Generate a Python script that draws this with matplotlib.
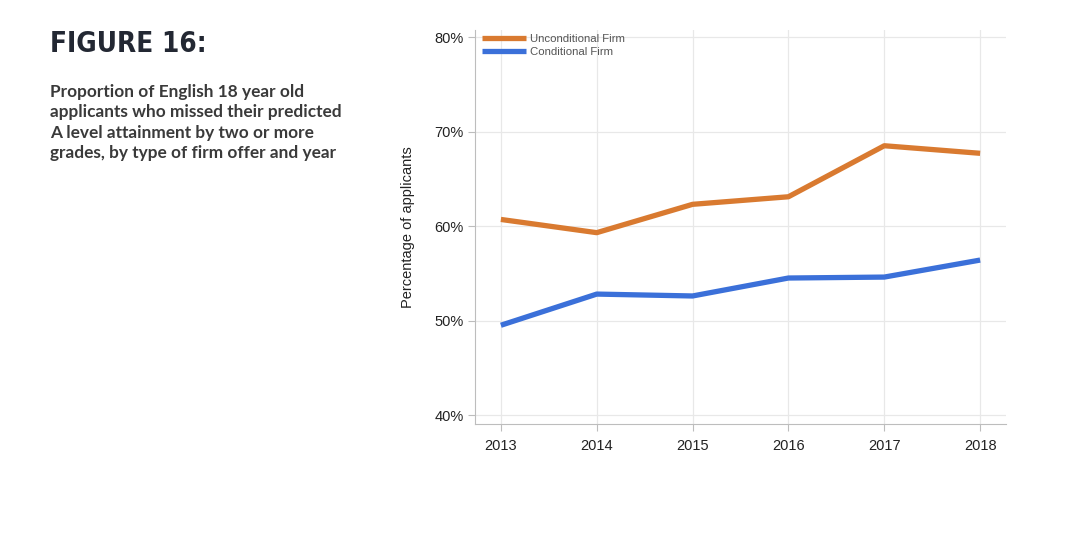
import numpy as np
import matplotlib.pyplot as plt
from matplotlib.ticker import FuncFormatter

plt.rcParams.update({
    "font.family": "Liberation Sans",
    "axes.linewidth": 0.8,
})

# Data
years = [2013, 2014, 2015, 2016, 2017, 2018]
unconditional = [60.7, 59.3, 62.3, 63.1, 68.5, 67.7]
conditional = [49.5, 52.8, 52.6, 54.5, 54.6, 56.4]
y_ticks = [40, 50, 60, 70, 80]

orange = "#d97a30"
blue = "#3b70d9"
grid_col = "#e8e8e8"
spine_col = "#bdbdbd"

fig = plt.figure(figsize=(10.8, 5.38), dpi=100)
ax = fig.add_axes([475 / 1080, 1 - 424 / 538, (1006 - 475) / 1080, (424 - 30) / 538])

ax.plot(years, unconditional, color=orange, linewidth=3.8, solid_capstyle="butt",
        label="Unconditional Firm", zorder=3)
ax.plot(years, conditional, color=blue, linewidth=3.8, solid_capstyle="butt",
        label="Conditional Firm", zorder=3)

ax.set_xlim(2012.73, 2018.27)
ax.set_ylim(39.05, 80.75)
ax.set_xticks(years)
ax.set_yticks(y_ticks)
ax.yaxis.set_major_formatter(FuncFormatter(lambda v, p: f"{v:.0f}%"))

ax.grid(True, color=grid_col, linewidth=0.9)
ax.set_axisbelow(True)
for side in ["top", "right"]:
    ax.spines[side].set_visible(False)
for side in ["left", "bottom"]:
    ax.spines[side].set_color(spine_col)

ax.tick_params(axis="both", colors=spine_col, labelcolor="#222222", labelsize=10.5,
               length=5, width=0.8)
ax.tick_params(axis="y", pad=3)
ax.tick_params(axis="x", pad=6)

ax.set_ylabel("Percentage of applicants", fontsize=10.5, color="#222222", labelpad=14)

leg = ax.legend(loc="upper left", bbox_to_anchor=(0.0, 1.008), frameon=False,
                fontsize=8.2, handlelength=3.9, handletextpad=0.3,
                labelspacing=0.28, borderaxespad=0.2)
for t in leg.get_texts():
    t.set_color("#555555")

# Heading text
fig.text(50 / 1080, 1 - 30 / 538, "FIGURE 16:", fontsize=20, fontweight="bold",
         family="DejaVu Sans", fontstretch="condensed", color="#232833",
         ha="left", va="top")
fig.text(50 / 1080, 1 - 84 / 538,
         "Proportion of English 18 year old\n"
         "applicants who missed their predicted\n"
         "A level attainment by two or more\n"
         "grades, by type of firm offer and year",
         fontsize=12.4, fontweight="bold", family="Lato", color="#3a3a3a",
         ha="left", va="top", linespacing=1.33)

fig.savefig("out.png", dpi=100)
